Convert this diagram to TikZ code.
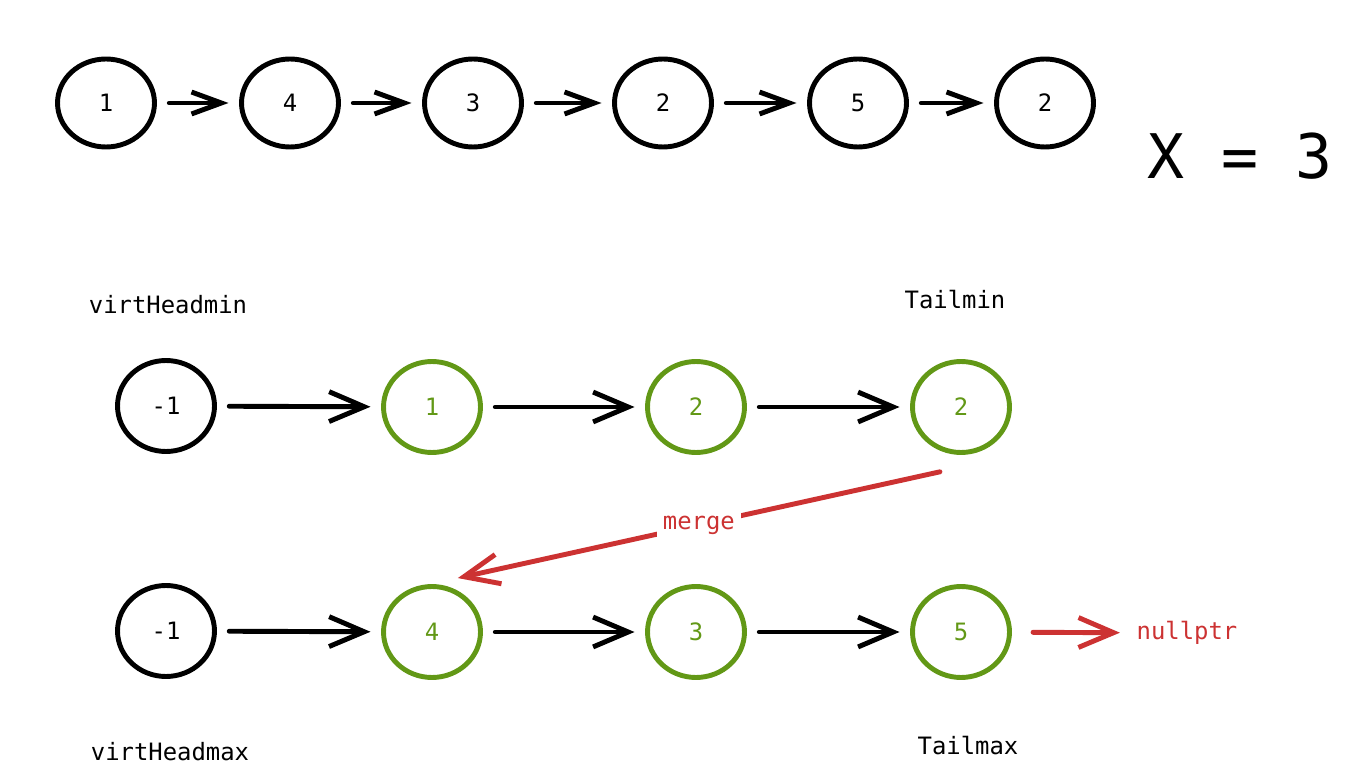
\documentclass[tikz,border=0pt]{standalone}
\usepackage{fontspec}
\setmonofont{DejaVu Sans Mono}
\usetikzlibrary{shapes.geometric,arrows.meta}
\definecolor{keptgreen}{RGB}{98,152,22}
\definecolor{mergered}{RGB}{204,50,50}
\begin{document}
\begin{tikzpicture}[x=0.02cm,y=-0.02cm,
  every node/.style={font=\ttfamily\fontsize{13.6}{16}\selectfont},
  elem/.style={ellipse,draw,line width=2.8pt,minimum width=1.94cm,minimum height=1.82cm,inner sep=0pt},
  topelem/.style={elem,minimum height=1.76cm},
  kept/.style={elem,draw=keptgreen,text=keptgreen},
  link/.style={line width=2.8pt,line cap=round,shorten <=7pt,shorten >=6pt,-{Straight Barb[length=20pt,width=17pt]}},
  toplink/.style={link,-{Straight Barb[length=17pt,width=12.5pt]}},
  redlink/.style={link,draw=mergered}]
\useasboundingbox (0,0) rectangle (1362,783);
\node[topelem] at (106,103) (t1) {1};\node[topelem] at (290,103) (t2) {4};
\node[topelem] at (473,103) (t3) {3};\node[topelem] at (663,103) (t4) {2};
\node[topelem] at (858,103) (t5) {5};\node[topelem] at (1045,103) (t6) {2};
\draw[toplink] (t1) -- (t2);\draw[toplink] (t2) -- (t3);\draw[toplink] (t3) -- (t4);
\draw[toplink] (t4) -- (t5);\draw[toplink] (t5) -- (t6);
\node[font=\ttfamily\fontsize{35}{40}\selectfont] at (1240,156) (x) {X = 3};
\node at (168,305) (hmin) {virtHeadmin};\node at (955,300) (tmin) {Tailmin};
\node[elem] at (166,406) (a0) {-1};\node[kept] at (432,407) (a1) {1};
\node[kept] at (696,407) (a2) {2};\node[kept] at (961,407) (a3) {2};
\draw[link] (a0) -- (a1);\draw[link] (a1) -- (a2);\draw[link] (a2) -- (a3);
\node[elem] at (166,631) (b0) {-1};\node[kept] at (432,632) (b1) {4};
\node[kept] at (696,632) (b2) {3};\node[kept] at (961,632) (b3) {5};
\draw[link] (b0) -- (b1);\draw[link] (b1) -- (b2);\draw[link] (b2) -- (b3);
\node[text=mergered] at (1187,633) (null) {nullptr};
\draw[redlink,shorten <=12pt] (b3) -- (null);
\draw[redlink,shorten <=0pt,shorten >=0pt] ([xshift=-12pt,yshift=-9.6pt]a3.south) -- node[fill=white,text=mergered] (mlbl) {merge} ([xshift=14.7pt,yshift=3.4pt]b1.north);
\node at (170,752) (hmax) {virtHeadmax};\node at (968,746) (tmax) {Tailmax};
\end{tikzpicture}
\end{document}
